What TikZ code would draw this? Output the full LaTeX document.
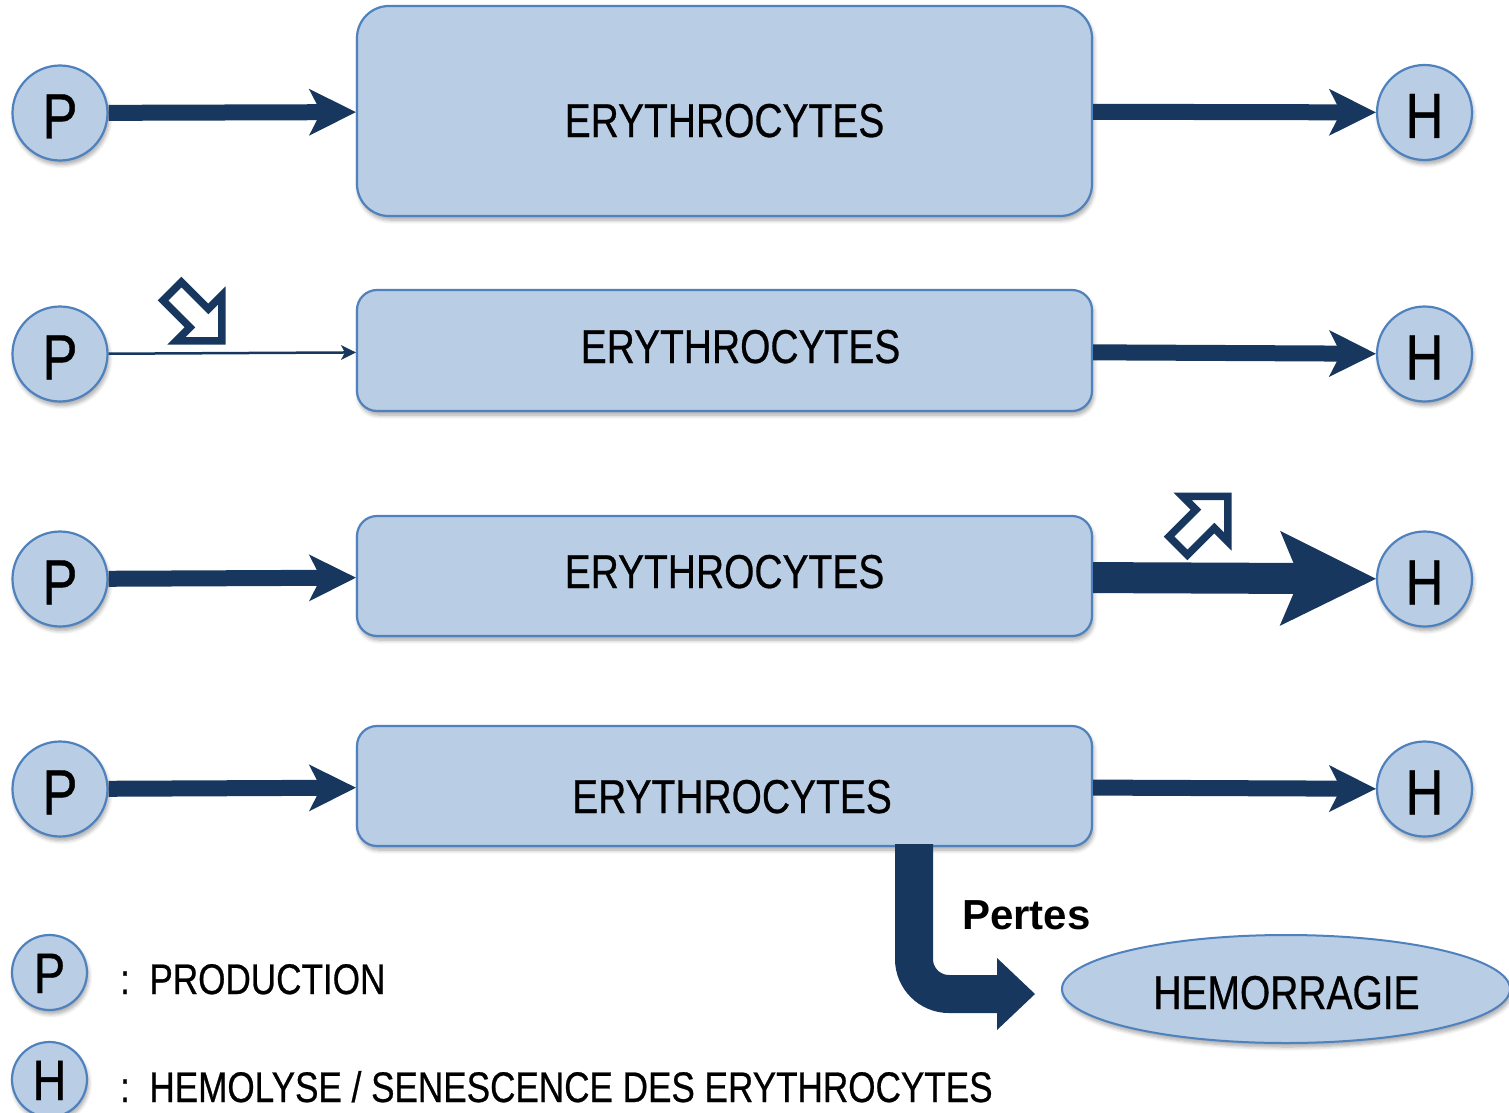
\documentclass[tikz,border=0pt]{standalone}
\usepackage{fontspec}
\setmainfont[FakeStretch=0.82,FakeBold=0.6]{Liberation Sans}
\newfontfamily\pertesfont[FakeStretch=1.0]{Liberation Sans}
\usetikzlibrary{arrows.meta,shapes.geometric,shadows.blur}
\definecolor{navy}{HTML}{17375E}
\definecolor{boxfill}{HTML}{B9CDE5}
\definecolor{boxline}{HTML}{4F81BD}
\begin{document}
\begin{tikzpicture}[x=1pt,y=-1pt,
  shad/.style={blur shadow={shadow xshift=1.5pt, shadow yshift=-4pt, shadow blur radius=4pt, shadow opacity=35, shadow blur steps=6}},
  ebox/.style={draw=boxline, fill=boxfill, line width=2.2pt, rounded corners=20pt, minimum width=735pt, inner sep=0pt, shad},
  circ/.style={circle, draw=boxline, fill=boxfill, line width=2.2pt, minimum size=95pt, inner sep=0pt, shad, font=\fontsize{64}{64}\selectfont, text height=51pt, text depth=0pt},
  lcirc/.style={circ, minimum size=75pt, font=\fontsize{57}{57}\selectfont, text height=41pt, text depth=0pt},
  etext/.style={anchor=base, inner sep=0pt, font=\fontsize{47.5}{48}\selectfont},
  legtext/.style={anchor=base west, inner sep=0pt, font=\fontsize{42.8}{44}\selectfont},
  flow/.style={navy, line width=16pt, -{Stealth[length=47pt,width=47pt,inset=12pt,line width=0pt]}},
  thinflow/.style={navy, line width=2.5pt, -{Stealth[length=15pt,width=15pt,inset=4pt,line width=0pt]}},
  bigflow/.style={navy, line width=31pt, -{Stealth[length=96pt,width=95pt,inset=20pt,line width=0pt]}},
  hollow/.style={draw=navy, line width=7.5pt, fill=white, line join=miter}
]
\useasboundingbox (0,0) rectangle (1509,1113);

% boxes
\node[ebox, rounded corners=32pt, minimum height=210pt] (B1) at (724.5,111) {};
\node[ebox, minimum height=121pt] (B2) at (724.5,350.5) {};
\node[ebox, minimum height=120pt] (B3) at (724.5,576) {};
\node[ebox, minimum height=120pt] (B4) at (724.5,786) {};
\node[etext] (T1) at (724.5,137) {ERYTHROCYTES};
\node[etext] (T2) at (740.5,363) {ERYTHROCYTES};
\node[etext] (T3) at (724.5,588) {ERYTHROCYTES};
\node[etext] (T4) at (732,813) {ERYTHROCYTES};

% circles
\node[circ] (P1) at (60,113) {P};
\node[circ] (P2) at (60,354) {P};
\node[circ] (P3) at (60,579) {P};
\node[circ] (P4) at (60,789) {P};
\node[circ] (H1) at (1424.5,112.5) {H};
\node[circ] (H2) at (1424.5,354) {H};
\node[circ] (H3) at (1424.5,579) {H};
\node[circ] (H4) at (1424.5,789) {H};

% hemorragie
\node[ellipse, draw=boxline, fill=boxfill, line width=2pt, minimum width=448pt, minimum height=108pt, inner sep=0pt, shad] (HEM) at (1286,989) {};
\node[etext] (HEMT) at (1286.5,1009) {HEMORRAGIE};

% legend
\node[lcirc] (LP) at (49.5,972.5) {P};
\node[lcirc] (LH) at (49.5,1079.5) {H};
\node[legtext] (LPT) at (120,994) {:\hspace{19.5pt}PRODUCTION};
\node[legtext] (LHT) at (120,1102) {:\hspace{19.5pt}HEMOLYSE / SENESCENCE DES ERYTHROCYTES};

% flows
\draw[flow] (P1) -- (B1);
\draw[flow] (B1) -- (H1);
\draw[thinflow] (P2) -- (B2);
\draw[flow] (B2) -- (H2);
\draw[flow] (P3) -- (B3);
\draw[bigflow] (B3) -- (H3);
\draw[flow] (P4) -- (B4);
\draw[flow] (B4) -- (H4);

% losses
\coordinate (bendtip) at (1035,994);
\draw[navy, line width=38pt, rounded corners=35pt, -{Triangle[length=38pt,width=72pt,line width=0pt]}] ([xshift=189.5pt,yshift=3pt]B4.south) |- (bendtip);
\node[anchor=base west, inner sep=0pt, font=\pertesfont\bfseries\fontsize{42}{44}\selectfont] (PT) at (962,929) {Pertes};

% hollow indicator arrows
\draw[hollow, shift={(197,316)}, rotate=-45] (-35,-13) -- (3,-13) -- (3,-32) -- (35,0) -- (3,32) -- (3,13) -- (-35,13) -- cycle;
\draw[hollow, shift={(1203,521)}, rotate=45] (-35,-13) -- (3,-13) -- (3,-32) -- (35,0) -- (3,32) -- (3,13) -- (-35,13) -- cycle;
\end{tikzpicture}
\end{document}
